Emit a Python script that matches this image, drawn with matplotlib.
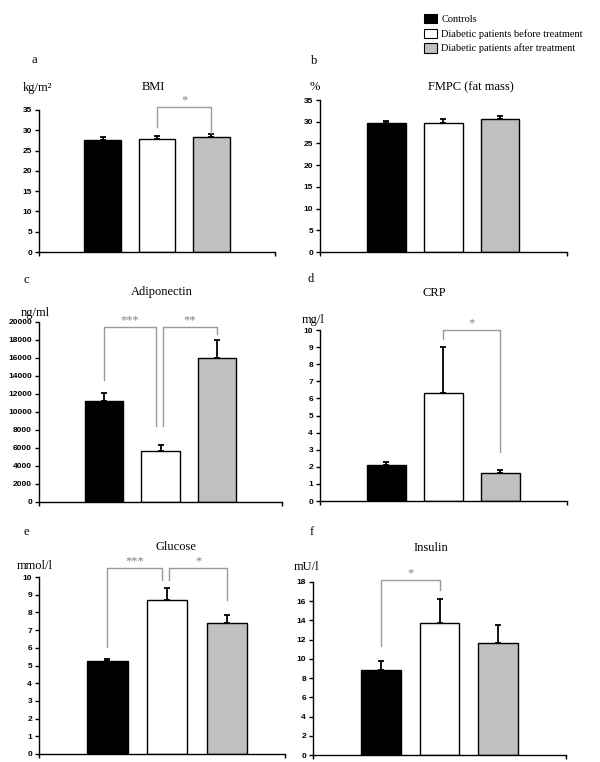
import numpy as np
import matplotlib.pyplot as plt
from matplotlib.patches import Patch

# Dados (média e erro padrão) para cada painel
groups = ['Controls', 'Diabetic patients before treatment', 'Diabetic patients after treatment']
colors = ['black', 'white', '#c0c0c0']

bmi = [27.7, 27.8, 28.3]
bmi_err = [0.7, 0.7, 0.8]
fmpc = [29.6, 29.8, 30.6]
fmpc_err = [0.6, 0.8, 0.8]
adipo = [11200, 5700, 16000]
adipo_err = [900, 600, 2000]
crp = [2.1, 6.3, 1.65]
crp_err = [0.2, 2.7, 0.15]
glucose = [5.25, 8.7, 7.4]
glucose_err = [0.1, 0.7, 0.45]
insulin = [8.8, 13.7, 11.7]
insulin_err = [1.0, 2.5, 1.8]

# brackets: (bar i, bar j, topo, base esq, base dir, texto, desloc esq, desloc dir)
bmi_sig = [(1, 2, 35.7, 30.8, 29.3, '*', 0, 0)]
adipo_sig = [(0, 1, 19440, 13550, 8440, '***', 0, -0.08),
             (1, 2, 19440, 8440, 18670, '**', 0.05, 0)]
crp_sig = [(1, 2, 10.0, 9.47, 2.87, '*', 0, 0)]
glucose_sig = [(0, 1, 10.5, 6.05, 9.83, '***', 0, -0.08),
               (1, 2, 10.5, 9.83, 8.7, '*', 0.04, 0)]
insulin_sig = [(0, 1, 18.2, 11.3, 17.2, '*', 0, 0)]

W, H = 600, 762
fig = plt.figure(figsize=(W / 100, H / 100), dpi=100)

serif = 'Liberation Serif'
sans = 'Liberation Sans'


def px_axes(left, right, top, bottom):
    return fig.add_axes([left / W, 1 - bottom / H, (right - left) / W, (bottom - top) / H])


def panel(rect, xlim, vals, errs, ymax, ystep, title, title_xy, unit, unit_xy, letter, letter_xy, sig):
    ax = px_axes(*rect)
    x = np.arange(1, 4)
    ax.bar(x, vals, width=0.68, color=colors, edgecolor='black', linewidth=1.0, zorder=2)
    ax.errorbar(x, vals, yerr=[np.zeros(3), errs], fmt='none', ecolor='black',
                elinewidth=1.3, capsize=2, capthick=1.3, zorder=3)
    ax.set_xlim(*xlim)
    ax.set_ylim(0, ymax)
    ax.set_yticks(np.arange(0, ymax + ystep / 2, ystep))
    ax.set_xticks(list(xlim))
    ax.set_xticklabels([])
    for s in ['top', 'right']:
        ax.spines[s].set_visible(False)
    for s in ['left', 'bottom']:
        ax.spines[s].set_linewidth(1.0)
    ax.tick_params(axis='both', direction='out', length=3, width=1, pad=2)
    for lab in ax.get_yticklabels():
        lab.set_fontfamily(sans)
        lab.set_fontweight('bold')
        lab.set_fontsize(6)
    fig.text(title_xy[0] / W, 1 - title_xy[1] / H, title, family=serif, fontsize=9,
             ha='center', va='center')
    fig.text(unit_xy[0] / W, 1 - unit_xy[1] / H, unit, family=serif, fontsize=9,
             ha='left', va='center')
    fig.text(letter_xy[0] / W, 1 - letter_xy[1] / H, letter, family=serif, fontsize=9,
             ha='left', va='center')
    for i, j, top, lb, rb, txt, dl, dr in sig:
        xl, xr = x[i] + dl, x[j] + dr
        ax.plot([xl, xl, xr, xr], [lb, top, top, rb], color='#9a9a9a', lw=1.0,
                clip_on=False, zorder=4)
        ax.annotate(txt, ((xl + xr) / 2, top), xytext=(0, 3), textcoords='offset points',
                    color='#808080', family=serif, fontsize=9, ha='center', va='baseline',
                    annotation_clip=False)
    return ax


panel((39, 275, 110, 252), (-0.18, 4.18), bmi, bmi_err, 35, 5, 'BMI', (153, 87),
      'kg/m²', (23, 88), 'a', (31, 60), bmi_sig)
panel((320, 567, 100, 252), (-0.17, 4.18), fmpc, fmpc_err, 35, 5, 'FMPC (fat mass)', (471, 87),
      '%', (310, 87), 'b', (311, 61), [])
panel((39, 282, 322, 502), (-0.16, 4.16), adipo, adipo_err, 20000, 2000, 'Adiponectin', (162, 292),
      'ng/ml', (21, 313), 'c', (24, 280), adipo_sig)
panel((320, 567, 330, 501), (-0.16, 4.17), crp, crp_err, 10, 1, 'CRP', (434, 293),
      'mg/l', (302, 320), 'd', (307, 279), crp_sig)
panel((39, 285, 577, 754), (-0.14, 3.97), glucose, glucose_err, 10, 1, 'Glucose', (176, 547),
      'mmol/l', (17, 566), 'e', (24, 532), glucose_sig)
panel((313, 566, 582, 755), (-0.16, 4.16), insulin, insulin_err, 18, 2, 'Insulin', (431, 548),
      'mU/l', (294, 567), 'f', (310, 532), insulin_sig)

handles = [Patch(facecolor=c, edgecolor='black', linewidth=0.8) for c in colors]
fig.legend(handles, groups, loc='upper left', bbox_to_anchor=(424 / W, 1 - 14 / H),
           frameon=False, prop={'family': serif, 'size': 7.5}, handlelength=1.25,
           handleheight=1.0, handletextpad=0.4, labelspacing=0.42, borderpad=0, borderaxespad=0)

fig.savefig('out.png', dpi=100, facecolor='white')
